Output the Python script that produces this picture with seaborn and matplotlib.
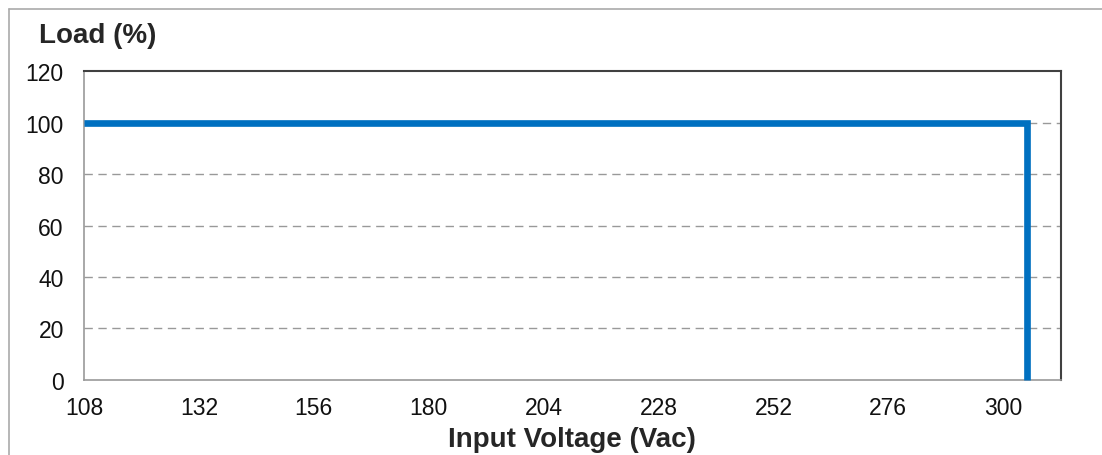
import matplotlib
matplotlib.use("Agg")
import matplotlib.pyplot as plt
import seaborn as sns
import pandas as pd

# derating curve data
voltage = [108, 305, 305]
load = [100, 100, 0]
x_ticks = [108, 132, 156, 180, 204, 228, 252, 276, 300]
y_ticks = [0, 20, 40, 60, 80, 100, 120]

df = pd.DataFrame({"Voltage": voltage, "Load": load})

sns.set_style("white")
plt.rcParams["font.family"] = ["Liberation Sans", "DejaVu Sans"]

fig = plt.figure(figsize=(11.02, 4.56), dpi=100)
ax = fig.add_axes([0.0762, 0.1645, 0.8863, 0.6775])

sns.lineplot(data=df, x="Voltage", y="Load", sort=False, estimator=None,
             color="#0070C0", linewidth=4.8, ax=ax, clip_on=False, zorder=5,
             solid_joinstyle="miter", solid_capstyle="butt")

ax.set_xlim(108, 312)
ax.set_ylim(0, 120)
ax.set_xticks(x_ticks)
ax.set_yticks(y_ticks)
ax.tick_params(axis="both", direction="out", length=4.5, width=1, color="#999999",
               labelsize=16.5, labelcolor="#111111")
ax.tick_params(axis="y", pad=10)
ax.tick_params(axis="x", pad=7)
ax.set_xlabel("Input Voltage (Vac)", fontsize=20, fontweight="bold", labelpad=5)
ax.set_ylabel("")

for y in y_ticks[1:-1]:
    ax.axhline(y, color="#999999", linewidth=1, linestyle=(0, (6, 4)), zorder=1)

for side in ["left", "bottom"]:
    ax.spines[side].set_color("#999999")
    ax.spines[side].set_linewidth(1.2)
for side in ["top", "right"]:
    ax.spines[side].set_color("#404040")
    ax.spines[side].set_linewidth(1.5)

fig.text(0.035, 0.905, "Load (%)", fontsize=20, fontweight="bold", ha="left", va="baseline")

# figure frame (top and left edges visible)
fig.add_artist(plt.Line2D([0.0085, 1.0], [0.978, 0.978], transform=fig.transFigure,
                          color="#AAAAAA", linewidth=1.2))
fig.add_artist(plt.Line2D([0.0085, 0.0085], [0.0, 0.978], transform=fig.transFigure,
                          color="#AAAAAA", linewidth=1.2))

fig.savefig("out.png", dpi=100)
